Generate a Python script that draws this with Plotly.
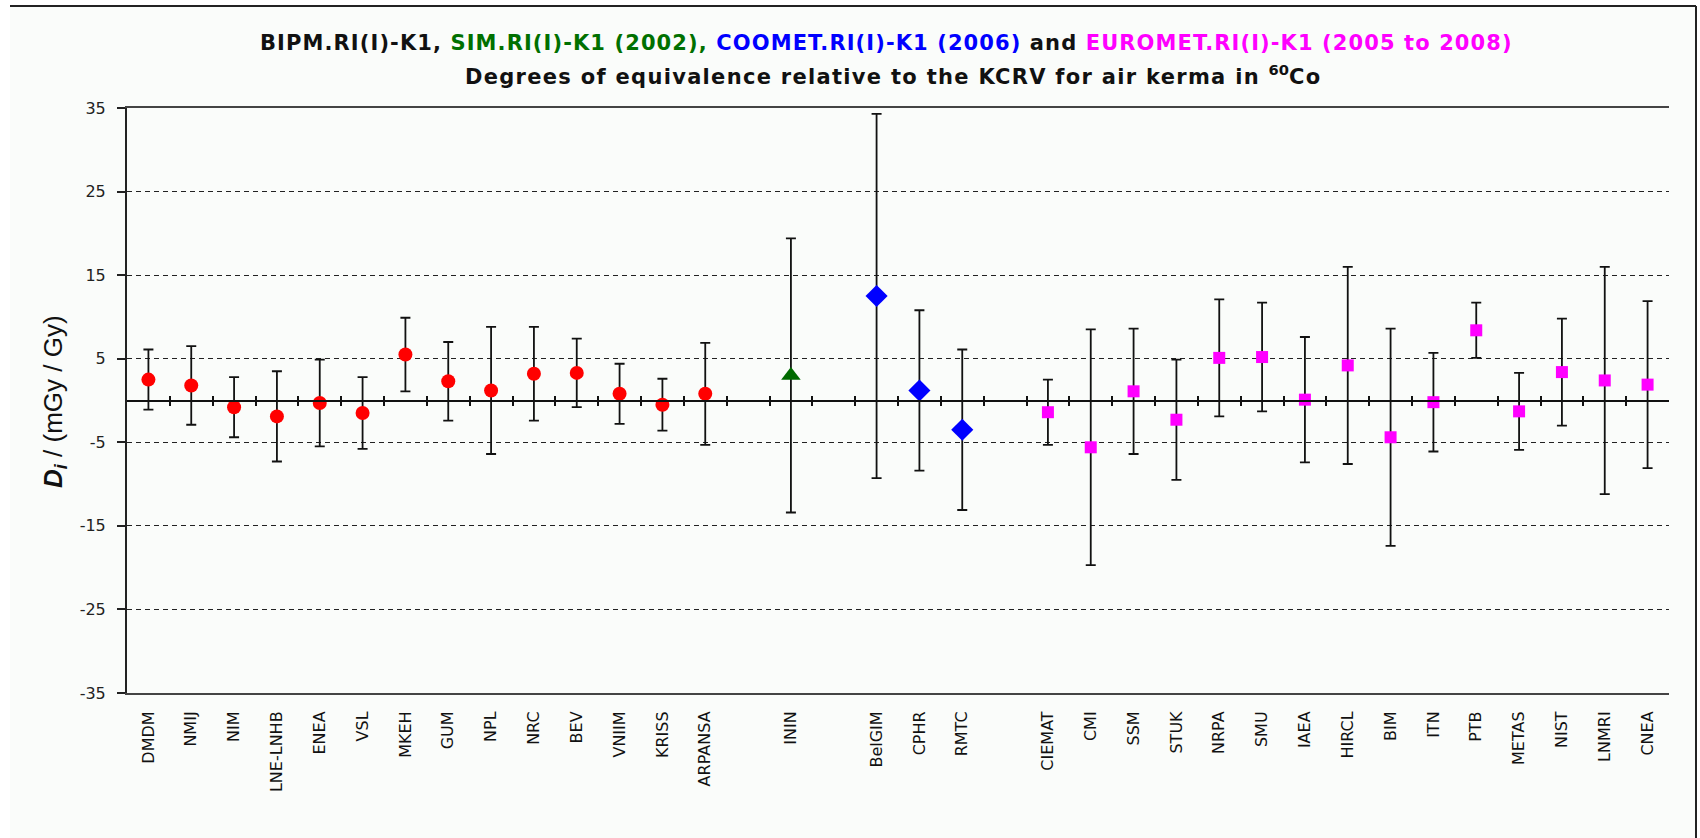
import plotly.graph_objects as go

# ---- data ----
categories = ["DMDM", "NMIJ", "NIM", "LNE-LNHB", "ENEA", "VSL", "MKEH", "GUM", "NPL", "NRC",
              "BEV", "VNIIM", "KRISS", "ARPANSA", " ", "ININ", "  ", "BelGIM", "CPHR", "RMTC",
              "   ", "CIEMAT", "CMI", "SSM", "STUK", "NRPA", "SMU", "IAEA", "HIRCL", "BIM",
              "ITN", "PTB", "METAS", "NIST", "LNMRI", "CNEA"]

bipm_labs = ["DMDM", "NMIJ", "NIM", "LNE-LNHB", "ENEA", "VSL", "MKEH", "GUM", "NPL", "NRC",
             "BEV", "VNIIM", "KRISS", "ARPANSA"]
bipm_D = [2.5, 1.8, -0.8, -1.9, -0.3, -1.5, 5.5, 2.3, 1.2, 3.2, 3.3, 0.8, -0.5, 0.8]
bipm_U = [3.6, 4.7, 3.6, 5.4, 5.2, 4.3, 4.4, 4.7, 7.6, 5.6, 4.1, 3.6, 3.1, 6.1]

sim_labs = ["ININ"]
sim_D = [3.0]
sim_U = [16.4]

coomet_labs = ["BelGIM", "CPHR", "RMTC"]
coomet_D = [12.5, 1.2, -3.5]
coomet_U = [21.8, 9.6, 9.6]

euromet_labs = ["CIEMAT", "CMI", "SSM", "STUK", "NRPA", "SMU", "IAEA", "HIRCL", "BIM",
                "ITN", "PTB", "METAS", "NIST", "LNMRI", "CNEA"]
euromet_D = [-1.4, -5.6, 1.1, -2.3, 5.1, 5.2, 0.1, 4.2, -4.4, -0.2, 8.4, -1.3, 3.4, 2.4, 1.9]
euromet_U = [3.9, 14.1, 7.5, 7.2, 7.0, 6.5, 7.5, 11.8, 13.0, 5.9, 3.3, 4.6, 6.4, 13.6, 10.0]

y_ticks = [-35, -25, -15, -5, 5, 15, 25, 35]

# ---- layout geometry (pixels) ----
W, H = 1700, 838
L, R, T, B = 127, 1669, 108, 693
FONT = "DejaVu Sans, Liberation Sans, sans-serif"
AFONT = "Liberation Sans, Arial, sans-serif"
BG = "#fafcfa"


def px(x):
    return (x - L) / (R - L)


def py(y):
    return (B - y) / (B - T)


def xpos(labs):
    return [categories.index(n) for n in labs]


fig = go.Figure()


def add_group(labs, D, U, color, symbol, size):
    fig.add_trace(go.Scatter(
        x=xpos(labs), y=D, mode="markers",
        marker=dict(color=color, symbol=symbol, size=size, line=dict(width=0)),
        error_y=dict(type="data", array=U, symmetric=True, color="#111111",
                     thickness=1.8, width=5),
        showlegend=False,
    ))


add_group(bipm_labs, bipm_D, bipm_U, "#ff0000", "circle", 14)
add_group(sim_labs, sim_D, sim_U, "#006a00", "triangle-up", 17)
add_group(coomet_labs, coomet_D, coomet_U, "#0000ff", "diamond", 17)
add_group(euromet_labs, euromet_D, euromet_U, "#ff00ff", "square", 12)

n = len(categories)
label_vals = [i for i, c in enumerate(categories) if c.strip()]
label_text = [c for c in categories if c.strip()]
boundaries = [i + 0.5 for i in range(n - 1)]

fig.update_layout(
    width=W, height=H,
    margin=dict(l=L, r=W - R, t=T, b=H - B, pad=0),
    paper_bgcolor="white",
    plot_bgcolor=BG,
    font=dict(family=FONT, color="#111111"),
    xaxis=dict(
        range=[-0.5, n - 0.5], showgrid=False, zeroline=False,
        tickmode="array", tickvals=label_vals, ticktext=label_text,
        tickangle=-90, tickfont=dict(size=16, family=FONT, color="#111111"),
        ticks="outside", ticklen=10, tickcolor="rgba(0,0,0,0)",
        showline=True, linecolor="#444444", linewidth=2, mirror=True,
    ),
    xaxis2=dict(
        overlaying="x", anchor="free", position=0.5,
        range=[-0.5, n - 0.5], showgrid=False, zeroline=False,
        tickmode="array", tickvals=boundaries, showticklabels=False,
        ticks="outside", ticklen=5, tickwidth=1.6, tickcolor="#111111",
        showline=True, linecolor="#111111", linewidth=1.6,
    ),
    xaxis3=dict(
        overlaying="x", anchor="free", position=0.5,
        range=[-0.5, n - 0.5], showgrid=False, zeroline=False,
        tickmode="array", tickvals=boundaries, showticklabels=False,
        ticks="inside", ticklen=5, tickwidth=1.6, tickcolor="#111111",
        showline=False,
    ),
    yaxis=dict(
        range=[-35, 35], tickmode="array", tickvals=y_ticks,
        ticktext=[str(v) for v in y_ticks],
        tickfont=dict(size=16, family=FONT, color="#222222"),
        ticks="outside", ticklen=8, tickwidth=1.6, tickcolor="#222222",
        ticklabelstandoff=8,
        showgrid=True, gridcolor="#222222", gridwidth=1.4, griddash="5px,4px",
        zeroline=False,
        showline=True, linecolor="#222222", linewidth=2,
    ),
)

# placeholder traces to activate overlay axes
fig.add_trace(go.Scatter(x=[None], y=[None], xaxis="x2", showlegend=False, hoverinfo="skip"))
fig.add_trace(go.Scatter(x=[None], y=[None], xaxis="x3", showlegend=False, hoverinfo="skip"))

# chart-area background and frame
fig.add_shape(type="rect", xref="paper", yref="paper", x0=px(10), x1=px(1696), y0=py(845), y1=py(6),
              fillcolor=BG, line=dict(width=0), layer="below")
fig.add_shape(type="line", xref="paper", yref="paper", x0=px(10), x1=px(1696), y0=py(6), y1=py(6),
              line=dict(color="#222222", width=2))
fig.add_shape(type="line", xref="paper", yref="paper", x0=px(1696), x1=px(1696), y0=py(6), y1=py(845),
              line=dict(color="#222222", width=2))

SP = "letter-spacing:1.1px;"
title1 = (f"<b><span style='{SP}'>BIPM.RI(I)-K1, </span>"
          f"<span style='{SP}color:#007000'>SIM.RI(I)-K1 (2002), </span>"
          f"<span style='{SP}color:#0000ff'>COOMET.RI(I)-K1 (2006)</span>"
          f"<span style='{SP}'> and </span>"
          f"<span style='{SP}color:#ff00ff'>EUROMET.RI(I)-K1 (2005 to 2008)</span></b>")
SP2 = "letter-spacing:1.3px;"
title2 = (f"<b><span style='{SP2}'>Degrees of equivalence relative to the KCRV for air kerma in </span>"
          f"<sup>60</sup><span style='{SP2}'>Co</span></b>")

fig.add_annotation(text=title1, xref="paper", yref="paper", x=px(886), y=py(43),
                   xanchor="center", yanchor="middle", showarrow=False,
                   font=dict(size=21, family=FONT, color="#111111"))
fig.add_annotation(text=title2, xref="paper", yref="paper", x=px(893), y=py(75),
                   xanchor="center", yanchor="middle", showarrow=False,
                   font=dict(size=21, family=FONT, color="#111111"))
fig.add_annotation(text="<b><i>D</i></b><sub><b><i>i</i></b></sub> / (mGy / Gy)",
                   xref="paper", yref="paper", x=px(54), y=py(402), textangle=-90,
                   xanchor="center", yanchor="middle", showarrow=False,
                   font=dict(size=26, family=AFONT, color="#111111"))

fig.write_html("out.html")
